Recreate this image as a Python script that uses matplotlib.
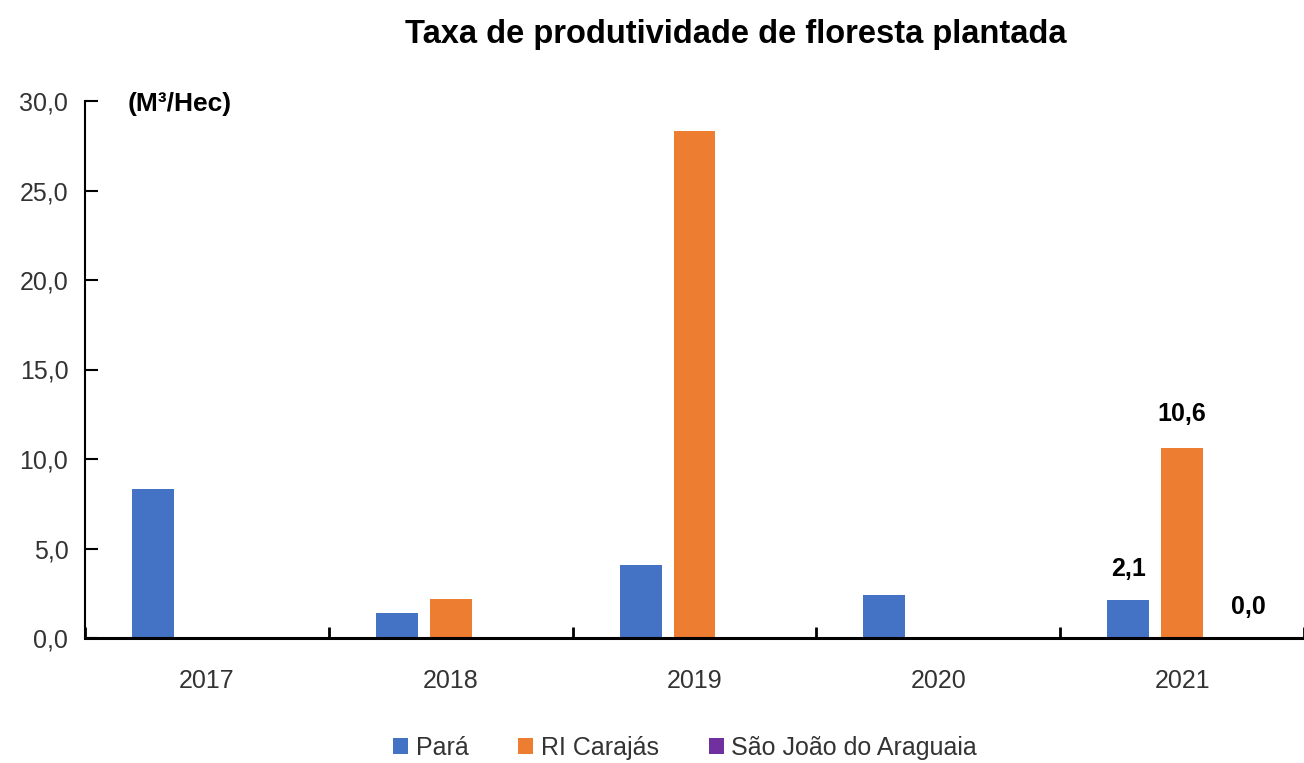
import matplotlib.pyplot as plt
import numpy as np
from matplotlib import font_manager

names = {f.name for f in font_manager.fontManager.ttflist}
narrow = 'Liberation Sans Narrow' if 'Liberation Sans Narrow' in names else 'Liberation Sans'
plt.rcParams['font.family'] = [narrow, 'DejaVu Sans']

anos = ['2017', '2018', '2019', '2020', '2021']
para = [8.3, 1.4, 4.1, 2.4, 2.1]
carajas = [0.0, 2.2, 28.3, 0.0, 10.6]
sao_joao = [0.0, 0.0, 0.0, 0.0, 0.0]
series = ['Pará', 'RI Carajás', 'São João do Araguaia']
cores = ['#4472C4', '#ED7D31', '#7030A0']

fig = plt.figure(figsize=(13.04, 7.63), dpi=100)
ax = fig.add_axes([85/1304, 1-638/763, (1304-85)/1304, (638-101)/763])

x = np.arange(len(anos))
w = 0.172
d = 0.221
b1 = ax.bar(x - d, para, w, color=cores[0], label=series[0])
b2 = ax.bar(x, carajas, w, color=cores[1], label=series[1])
b3 = ax.bar(x + d, sao_joao, w, color=cores[2], label=series[2])

ax.set_xlim(-0.5, len(anos) - 0.5)
ax.set_ylim(0, 30)
ax.set_yticks(np.arange(0, 31, 5))
ax.set_yticklabels([f'{v:.1f}'.replace('.', ',') for v in np.arange(0, 31, 5)])
ax.set_xticks(x)
ax.set_xticklabels(anos)
ax.set_xticks(np.arange(-0.5, len(anos)), minor=True)
ax.tick_params(axis='x', which='major', length=0, pad=22, labelsize=18)
ax.tick_params(axis='x', which='minor', direction='in', length=8, width=2)
ax.tick_params(axis='y', direction='in', length=9, width=1.5, pad=12, labelsize=18)
for lab in ax.get_yticklabels() + ax.get_xticklabels():
    lab.set_color('#333333')

for s in ['top', 'right']:
    ax.spines[s].set_visible(False)
ax.spines['left'].set_linewidth(1.5)
ax.spines['bottom'].set_linewidth(2.2)

# rótulos só em 2021
i = len(anos) - 1
ax.annotate(f'{para[i]:.1f}'.replace('.', ','), (x[i] - d, para[i]), xytext=(0, 14),
            textcoords='offset points', ha='center', va='bottom', fontsize=18, fontweight='bold')
ax.annotate(f'{carajas[i]:.1f}'.replace('.', ','), (x[i], carajas[i]), xytext=(0, 16),
            textcoords='offset points', ha='center', va='bottom', fontsize=18, fontweight='bold')
ax.annotate(f'{sao_joao[i]:.1f}'.replace('.', ','), (x[i] + d + 0.05, sao_joao[i]), xytext=(0, 14),
            textcoords='offset points', ha='center', va='bottom', fontsize=18, fontweight='bold')

fig.text(128/1304, 1-104/763, '(M³/Hec)', ha='left', va='center',
         fontsize=19, fontweight='bold')
fig.text(736/1304, 1-35/763, 'Taxa de produtividade de floresta plantada', ha='center',
         va='center', fontsize=23.5, fontweight='bold')

fig.legend(handles=[b1, b2, b3], labels=series, loc='center', bbox_to_anchor=(685/1304, 1-748/763),
           ncol=3, frameon=False, fontsize=18, handlelength=0.6, handleheight=0.6,
           handletextpad=0.3, columnspacing=2.0, labelcolor='#333333')

fig.savefig('out.png', dpi=100)
